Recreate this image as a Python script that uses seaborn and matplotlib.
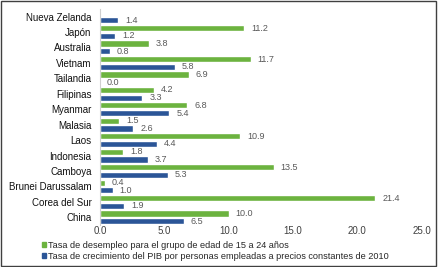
import numpy as np
import pandas as pd
import matplotlib
matplotlib.use("Agg")
import matplotlib.pyplot as plt
import seaborn as sns

countries = ["Nueva Zelanda", "Japón", "Australia", "Vietnam", "Tailandia",
             "Filipinas", "Myanmar", "Malasia", "Laos", "Indonesia", "Camboya",
             "Brunei Darussalam", "Corea del Sur", "China"]
desempleo = [np.nan, 11.2, 3.8, 11.7, 6.9, 4.2, 6.8, 1.5, 10.9, 1.8, 13.5, 0.4, 21.4, 10.0]
pib = [1.4, 1.2, 0.8, 5.8, 0.0, 3.3, 5.4, 2.6, 4.4, 3.7, 5.3, 1.0, 1.9, 6.5]
series = ["Tasa de desempleo para el grupo de edad de 15 a 24 años",
          "Tasa de crecimiento del PIB por personas empleadas a precios constantes de 2010"]
xticks = [0, 5, 10, 15, 20, 25]

df = pd.DataFrame({"pais": countries * 2,
                   "valor": desempleo + pib,
                   "serie": [series[0]] * len(countries) + [series[1]] * len(countries)})

sns.set_theme(style="white")
plt.rcParams['font.family'] = ['Liberation Sans', 'DejaVu Sans']

fig = plt.figure(figsize=(4.38, 2.67), dpi=100)
ax = fig.add_axes([0.228, 0.157, 0.735, 0.81])

palette = {series[0]: "#6cb33f", series[1]: "#2b5597"}
sns.barplot(data=df, y="pais", x="valor", hue="serie", order=countries,
            hue_order=series, palette=palette, width=1.0, gap=0.2,
            saturation=1, errorbar=None, legend=False, ax=ax)

for cont in ax.containers:
    ax.bar_label(cont, fmt="%.1f", padding=5, fontsize=6.5, color="#595959")

ax.set_xlim(0, 25)
ax.set_ylim(13.5, -0.5)
ax.set_xticks(xticks)
ax.set_xticklabels([f"{t:.1f}" for t in xticks], fontsize=7, color="#404040")
ax.tick_params(axis="y", labelsize=7, colors="#111111", length=0, pad=6)
ax.tick_params(axis="x", length=0, pad=1)
ax.set_xlabel("")
ax.set_ylabel("")
sns.despine(ax=ax, top=True, right=True, bottom=True)
ax.spines["left"].set_color("#d0d0d0")
ax.spines["left"].set_linewidth(0.8)

handles = [plt.Rectangle((0, 0), 1, 1, color=palette[s]) for s in series]
fig.legend(handles, series, loc="upper left", bbox_to_anchor=(0.095, 0.098),
           frameon=False, fontsize=6.6, handlelength=0.45, handleheight=0.45,
           handletextpad=0.3, labelspacing=0.2, borderaxespad=0, borderpad=0)

fig.add_artist(plt.Rectangle((0.002, 0.004), 0.994, 0.992, transform=fig.transFigure,
                             fill=False, edgecolor="#404040", linewidth=1))

fig.savefig("out.png", dpi=100)
